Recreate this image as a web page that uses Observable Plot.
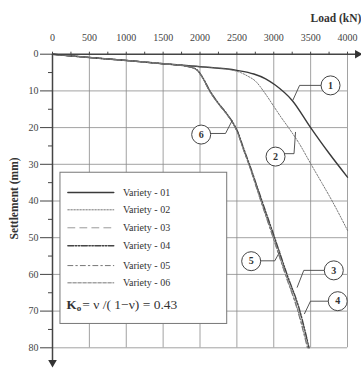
<!DOCTYPE html>
<html>
<head>
<meta charset="utf-8">
<script src="https://cdn.jsdelivr.net/npm/d3@7"></script>
<script src="https://cdn.jsdelivr.net/npm/@observablehq/plot@0.6"></script>
<style>
  body { margin: 0; background: #fff; }
  svg, svg text { font-family: "Liberation Serif", "Times New Roman", serif !important; }
</style>
</head>
<body>
<div id="chart"></div>
<script>
// ---- tick labels ----
const xTicks = [0, 500, 1000, 1500, 2000, 2500, 3000, 3500, 4000];
const xMinorTicks = [250, 750, 1250, 1750, 2250, 2750, 3250, 3750];
const yTicks = [0, 10, 20, 30, 40, 50, 60, 70, 80];
const yMinorTicks = [5, 15, 25, 35, 45, 55, 65, 75];
const xTitle = "Load (kN)";
const yTitle = "Settlement (mm)";

// ---- series (load kN, settlement mm) ----
const varieties = ["Variety - 01", "Variety - 02", "Variety - 03", "Variety - 04", "Variety - 05", "Variety - 06"];

const load01 = [0, 500, 1000, 1500, 2000, 2500, 2730, 2890, 3020, 3250, 3500, 3750, 4000];
const settle01 = [0, 0.9, 1.7, 2.6, 3.4, 4.4, 5.4, 6.7, 8.4, 12.6, 20, 27, 33.5];

const load02 = [0, 500, 1000, 1500, 2000, 2400, 2550, 2650, 2750, 2880, 3000, 3100, 3200, 3350, 3500, 3650, 3800, 4000];
const settle02 = [0, 0.9, 1.7, 2.6, 3.4, 4.2, 5.0, 6.0, 7.3, 10.6, 14.2, 17.2, 20, 24.5, 29.8, 35, 40.3, 48];

const load03 = [0, 500, 1000, 1500, 1800, 1950, 2030, 2130, 2250, 2350, 2440, 2510, 2585, 2665, 2825, 3005, 3172, 3345, 3480];
const settle03 = [0, 0.9, 1.7, 2.6, 3.2, 4.2, 6.3, 10, 13.5, 16, 18.6, 21.3, 25.6, 30, 39.5, 50, 60, 70, 80];

const load04 = [0, 500, 1000, 1500, 1800, 1955, 2035, 2135, 2255, 2355, 2445, 2515, 2590, 2670, 2832, 3012, 3180, 3355, 3478];
const settle04 = [0, 0.9, 1.7, 2.6, 3.2, 4.2, 6.3, 10, 13.5, 16, 18.6, 21.3, 25.6, 30, 39.5, 50, 60, 70, 80];

const load05 = [0, 500, 1000, 1500, 1800, 1950, 2028, 2125, 2245, 2345, 2435, 2505, 2580, 2660, 2815, 2990, 3155, 3325, 3455];
const settle05 = [0, 0.9, 1.7, 2.6, 3.2, 4.2, 6.3, 10, 13.5, 16, 18.6, 21.3, 25.6, 30, 39.5, 50, 60, 70, 80];

const load06 = [0, 500, 1000, 1500, 1800, 1950, 2030, 2128, 2248, 2348, 2438, 2508, 2582, 2662, 2818, 2995, 3160, 3330, 3462];
const settle06 = [0, 0.9, 1.7, 2.6, 3.2, 4.2, 6.3, 10, 13.5, 16, 18.6, 21.3, 25.6, 30, 39.5, 50, 60, 70, 80];

const coefficientLabel = ["K", "o", "= ν /( 1−ν) = 0.43"];

// ---- layout / annotation positions (in data units) ----
const axisEnds = { x: 4136, y: 84 };
const callouts = [
  { n: "1", cx: 3770, cy: 8.5,  ex: 3350, ey: 8.5,  tx: 3260, ty: 12.5 },
  { n: "2", cx: 3024, cy: 27.9, ex: 3275, ey: 27.1, tx: 3295, ty: 21.3 },
  { n: "3", cx: 3814, cy: 58.9, ex: 3407, ey: 58.9, tx: 3318, ty: 63.5 },
  { n: "4", cx: 3868, cy: 67.3, ex: 3498, ey: 67.3, tx: 3417, ty: 70.7 },
  { n: "5", cx: 2694, cy: 56.4, ex: 3014, ey: 56.3, tx: 3082, ty: 53.8 },
  { n: "6", cx: 2016, cy: 21.9, ex: 2346, ey: 21.6, tx: 2436, ty: 18.1 }
];
const legendLayout = {
  box: { x1: 108, x2: 2369, y1: 32.3, y2: 73.5 },
  sampleX1: 208, sampleX2: 831, textX: 955,
  rows: [37.7, 42.4, 47.3, 52.2, 57.6, 62.3],
  coefY: 68.3, kX: 190, oX: 330, restX: 403
};

const styles = [
  { stroke: "#3a3a3a", strokeWidth: 1.4, strokeDasharray: null },
  { stroke: "#6a6a6a", strokeWidth: 0.9, strokeDasharray: "1.5,1.5" },
  { stroke: "#9a9a9a", strokeWidth: 1.0, strokeDasharray: "7,5" },
  { stroke: "#454545", strokeWidth: 1.4, strokeDasharray: "6,1.5,1.5,1.5,1.5,1.5" },
  { stroke: "#777777", strokeWidth: 1.0, strokeDasharray: "5,3,1.5,3" },
  { stroke: "#777777", strokeWidth: 1.0, strokeDasharray: "3.5,1.5" }
];

const series = [
  [load01, settle01], [load02, settle02], [load03, settle03],
  [load04, settle04], [load05, settle05], [load06, settle06]
].map(([L, S], i) => L.map((x, j) => ({ x, y: S[j], variety: varieties[i] })));

const curveMarks = series.map((data, i) =>
  Plot.line(data, { x: "x", y: "y", curve: "monotone-x", ...styles[i] })
);

const legendMarks = [];
varieties.forEach((v, i) => {
  const yy = legendLayout.rows[i];
  legendMarks.push(Plot.line([{ x: legendLayout.sampleX1, y: yy }, { x: legendLayout.sampleX2, y: yy }],
    { x: "x", y: "y", ...styles[i] }));
  legendMarks.push(Plot.text([v], { x: legendLayout.textX, y: yy, textAnchor: "start", fontSize: 10, fill: "#333" }));
});
legendMarks.push(Plot.text([coefficientLabel[0]], { x: legendLayout.kX, y: legendLayout.coefY, textAnchor: "start", fontSize: 13, fontWeight: "bold", fill: "#333" }));
legendMarks.push(Plot.text([coefficientLabel[1]], { x: legendLayout.oX, y: legendLayout.coefY, dy: 3.5, textAnchor: "start", fontSize: 9, fontWeight: "bold", fill: "#333" }));
legendMarks.push(Plot.text([coefficientLabel[2]], { x: legendLayout.restX, y: legendLayout.coefY, textAnchor: "start", fontSize: 13.5, fill: "#333" }));

const leaderData = callouts.flatMap(c => [
  { n: c.n, x: c.cx, y: c.ey }, { n: c.n, x: c.ex, y: c.ey }, { n: c.n, x: c.tx, y: c.ty }
]);

const fmt = d3.format("d");

const chart = Plot.plot({
  width: 361,
  height: 369,
  marginLeft: 52,
  marginRight: 14,
  marginTop: 53.7,
  marginBottom: 21.7,
  style: "background: #fff; overflow: visible; font-family: 'Liberation Serif', 'Times New Roman', serif;",
  x: { domain: [0, 4000] },
  y: { domain: [0, 80], reverse: true },
  marks: [
    Plot.gridX(xTicks.filter(d => d > 0), { stroke: "#8a8a8a", strokeOpacity: 1, strokeWidth: 0.8 }),
    Plot.gridY(yTicks.filter(d => d > 0), { stroke: "#8a8a8a", strokeOpacity: 1, strokeWidth: 0.8 }),
    Plot.rect([legendLayout.box], { x1: "x1", x2: "x2", y1: "y1", y2: "y2", fill: "#fff", stroke: "#777", strokeWidth: 1 }),
    ...curveMarks,
    Plot.ruleY([0], { x1: 0, x2: axisEnds.x, stroke: "#444", strokeWidth: 1.5 }),
    Plot.ruleX([0], { y1: 0, y2: axisEnds.y, stroke: "#444", strokeWidth: 1.5 }),
    Plot.dot([{ x: axisEnds.x, y: 0 }], { x: "x", y: "y", symbol: "triangle", rotate: 90, r: 3.2, fill: "#333", stroke: null }),
    Plot.dot([{ x: 0, y: axisEnds.y }], { x: "x", y: "y", symbol: "triangle", rotate: 180, r: 3.2, fill: "#333", stroke: null }),
    Plot.axisX({ anchor: "top", ticks: xTicks, tickSize: 3, tickPadding: 10, tickFormat: fmt, fontSize: 10, label: null, stroke: "#444", fill: "#444" }),
    Plot.axisX({ anchor: "top", ticks: xMinorTicks, tickSize: 3, tickFormat: () => "", label: null, stroke: "#444" }),
    Plot.axisY({ anchor: "left", ticks: yTicks, tickSize: 12, tickPadding: 2, tickFormat: fmt, fontSize: 10, label: null, stroke: "#444", fill: "#444" }),
    Plot.axisY({ anchor: "left", ticks: yMinorTicks, tickSize: 4, tickFormat: () => "", label: null, stroke: "#444" }),
    Plot.line(leaderData, { x: "x", y: "y", z: "n", stroke: "#444", strokeWidth: 0.9 }),
    Plot.dot(callouts, { x: "cx", y: "cy", r: 9.5, fill: "#fff", stroke: "#444", strokeWidth: 1 }),
    Plot.text(callouts, { x: "cx", y: "cy", text: "n", fontSize: 10, fontWeight: "bold", fill: "#333" }),
    ...legendMarks,
    Plot.text([xTitle], { frameAnchor: "top-right", dx: -37, dy: -40, textAnchor: "start", fontSize: 11.5, fontWeight: "bold", fill: "#333" }),
    Plot.text([yTitle], { frameAnchor: "left", dx: -38, dy: 38.5, rotate: -90, fontSize: 11.5, fontWeight: "bold", fill: "#333" })
  ]
});
document.getElementById("chart").appendChild(chart);
</script>
</body>
</html>
